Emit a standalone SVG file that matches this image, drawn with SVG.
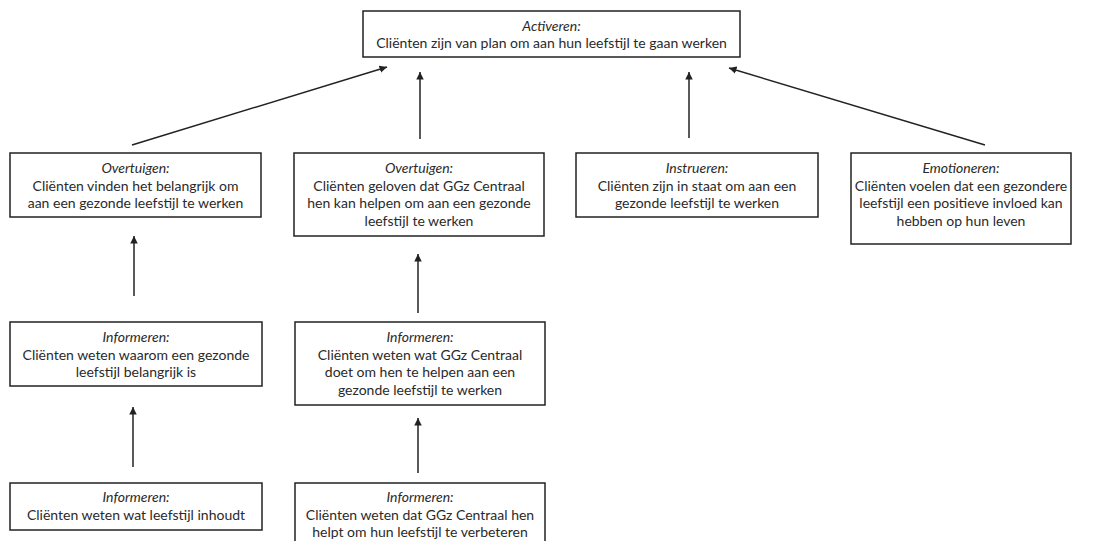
<svg xmlns="http://www.w3.org/2000/svg" width="1101" height="541" viewBox="0 0 1101 541">
<style>
.box{fill:#fff;stroke:#222;stroke-width:1.5}
text{font-family:"Lato","Liberation Sans",sans-serif;font-size:14px;fill:#2a2a2a;text-anchor:middle}
.h{font-style:italic}
.c{stroke:#222;stroke-width:1.5;fill:none;marker-end:url(#ah)}
</style>
<defs>
<marker id="ah" viewBox="0 0 10 10" refX="10" refY="5" markerWidth="5" markerHeight="5" orient="auto" markerUnits="strokeWidth">
<path d="M0,0 L10,5 L0,10 z" fill="#222"/>
</marker>
</defs>
<rect width="1101" height="541" fill="#fff"/>
<g id="connectors">
<line class="c" x1="132" y1="145" x2="387" y2="67"/>
<line class="c" x1="420" y1="139" x2="420" y2="72"/>
<line class="c" x1="689" y1="138" x2="689" y2="72"/>
<line class="c" x1="985" y1="145" x2="729" y2="68"/>
<line class="c" x1="134" y1="296" x2="134" y2="236"/>
<line class="c" x1="418" y1="313" x2="418" y2="254"/>
<line class="c" x1="133" y1="467" x2="133" y2="407"/>
<line class="c" x1="418" y1="473" x2="418" y2="418"/>
</g>
<g id="activeren">
<rect class="box" x="363" y="11" width="377" height="46"/>
<text x="551.5" y="30.5" class="h">Activeren:</text>
<text x="551.5" y="48">Cliënten zijn van plan om aan hun leefstijl te gaan werken</text>
</g>
<g id="overtuigen1">
<rect class="box" x="10" y="153" width="251" height="64"/>
<text x="135.5" y="173" class="h">Overtuigen:</text>
<text x="135.5" y="190.5">Cliënten vinden het belangrijk om</text>
<text x="135.5" y="208">aan een gezonde leefstijl te werken</text>
</g>
<g id="overtuigen2">
<rect class="box" x="294" y="153" width="250" height="83"/>
<text x="419" y="173" class="h">Overtuigen:</text>
<text x="419" y="190.5">Cliënten geloven dat GGz Centraal</text>
<text x="419" y="208">hen kan helpen om aan een gezonde</text>
<text x="419" y="225.5">leefstijl te werken</text>
</g>
<g id="instrueren">
<rect class="box" x="576" y="153" width="242" height="64"/>
<text x="697" y="173" class="h">Instrueren:</text>
<text x="697" y="190.5">Cliënten zijn in staat om aan een</text>
<text x="697" y="208">gezonde leefstijl te werken</text>
</g>
<g id="emotioneren">
<rect class="box" x="851" y="153" width="220" height="91"/>
<text x="961" y="173" class="h">Emotioneren:</text>
<text x="961" y="190.5">Cliënten voelen dat een gezondere</text>
<text x="961" y="208">leefstijl een positieve invloed kan</text>
<text x="961" y="225.5">hebben op hun leven</text>
</g>
<g id="informeren1">
<rect class="box" x="10" y="322" width="252" height="64"/>
<text x="136" y="342" class="h">Informeren:</text>
<text x="136" y="359.5">Cliënten weten waarom een gezonde</text>
<text x="136" y="377">leefstijl belangrijk is</text>
</g>
<g id="informeren2">
<rect class="box" x="295" y="322" width="250" height="83"/>
<text x="420" y="342" class="h">Informeren:</text>
<text x="420" y="359.5">Cliënten weten wat GGz Centraal</text>
<text x="420" y="377">doet om hen te helpen aan een</text>
<text x="420" y="394.5">gezonde leefstijl te werken</text>
</g>
<g id="informeren3">
<rect class="box" x="10" y="483" width="252" height="47"/>
<text x="136" y="502" class="h">Informeren:</text>
<text x="136" y="519.5">Cliënten weten wat leefstijl inhoudt</text>
</g>
<g id="informeren4">
<rect class="box" x="295" y="483" width="250" height="66"/>
<text x="420" y="502" class="h">Informeren:</text>
<text x="420" y="519.5">Cliënten weten dat GGz Centraal hen</text>
<text x="420" y="537">helpt om hun leefstijl te verbeteren</text>
</g>
</svg>
